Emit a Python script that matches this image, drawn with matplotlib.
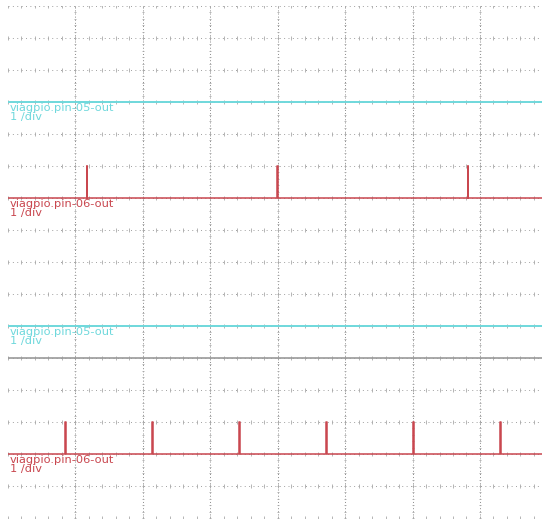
import matplotlib
matplotlib.use("Agg")
import matplotlib.pyplot as plt
import numpy as np

# ── data (time and level in scope divisions) ─────────────────
N_XDIV = 7.92          # visible horizontal divisions
N_YDIV = 16            # visible vertical divisions

# upper capture
TOP_PIN05_BASE = 13
TOP_PIN06_BASE = 10
TOP_PIN06_SPIKES = [1.17, 3.99, 6.82]

# lower capture
BOT_PIN05_BASE = 6
BOT_PIN06_BASE = 2
BOT_PIN06_SPIKES = [0.85, 2.14, 3.43, 4.72, 6.01, 7.30]
SEPARATOR_LEVEL = 5

SPIKE_HEIGHT = 1.0     # 1 /div
LABELS = ["viagpio.pin-05-out", "viagpio.pin-06-out"]
SCALE_TXT = "1 /div"

CYAN = "#6fd8dc"
RED = "#c9474f"
GRID = "#8a8a8a"


def pulse_trace(base, spikes, height, width=0.008):
    t = [0.0]
    v = [base]
    for s in spikes:
        t += [s, s, s + width, s + width]
        v += [base, base + height, base + height, base]
    t.append(N_XDIV)
    v.append(base)
    return np.array(t), np.array(v)


fig = plt.figure(figsize=(5.42, 5.20), dpi=100)
# axes: left 8px .. right edge, top grid line at 6px, bottom at 518px
ax = fig.add_axes([8 / 542, 2 / 520, 534 / 542, 512 / 520])
ax.set_xlim(0, N_XDIV)
ax.set_ylim(0, N_YDIV)
ax.axis("off")

# ── grid ─────────────────────────────────────────────
for gx in np.arange(1, int(N_XDIV) + 1):
    ax.axvline(gx, color=GRID, lw=0.7, ls=(0, (1, 2.2)), zorder=1)
for gy in np.arange(0, N_YDIV + 1):
    ax.axhline(gy, color="#a0a0a0", lw=0.7, ls=(0, (1, 3.5)), zorder=1)

# minor tick marks along the grid lines
minor_x = np.arange(0, N_XDIV, 0.2)
for gy in np.arange(0, N_YDIV + 1):
    ax.scatter(minor_x, np.full_like(minor_x, gy), marker="|", s=6,
               color="#a8a8a8", lw=0.6, zorder=1)
minor_y = np.arange(0, N_YDIV, 0.2)
for gx in np.arange(1, int(N_XDIV) + 1):
    ax.scatter(np.full_like(minor_y, gx), minor_y, marker="_", s=4,
               color="#a8a8a8", lw=0.6, zorder=1)

# separator between the two captures
ax.axhline(SEPARATOR_LEVEL, color="#9a9a9a", lw=1.2, zorder=2)

# ── traces ───────────────────────────────────────────
for base in (TOP_PIN05_BASE, BOT_PIN05_BASE):
    ax.plot([0, N_XDIV], [base, base], color=CYAN, lw=1.4, zorder=3)

for base, spikes in ((TOP_PIN06_BASE, TOP_PIN06_SPIKES),
                     (BOT_PIN06_BASE, BOT_PIN06_SPIKES)):
    t, v = pulse_trace(base, spikes, SPIKE_HEIGHT)
    ax.plot(t, v, color=RED, lw=1.1, zorder=3)

# ── channel labels ───────────────────────────────────
for base, label, col in ((TOP_PIN05_BASE, LABELS[0], CYAN),
                         (TOP_PIN06_BASE, LABELS[1], RED),
                         (BOT_PIN05_BASE, LABELS[0], CYAN),
                         (BOT_PIN06_BASE, LABELS[1], RED)):
    ax.text(0.03, base - 0.02, f"{label}\n{SCALE_TXT}", color=col,
            fontsize=8.2, ha="left", va="top", linespacing=0.95, zorder=4)

fig.savefig("out.png", dpi=100, facecolor="white")
